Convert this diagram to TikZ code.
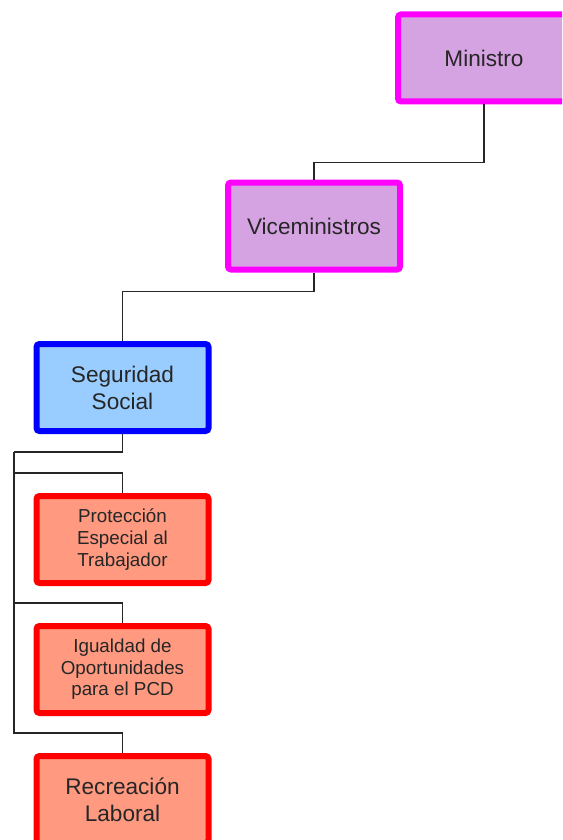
\documentclass[tikz,border=0pt]{standalone}
\usepackage{fontspec}
\setmainfont{Liberation Sans}
\usetikzlibrary{positioning,calc}
\definecolor{pc}{RGB}{214,163,226}
\definecolor{pm}{RGB}{255,0,255}
\definecolor{bc}{RGB}{153,204,255}
\definecolor{bm}{RGB}{0,0,255}
\definecolor{sc}{RGB}{255,153,128}
\definecolor{sm}{RGB}{255,0,0}
\tikzset{box/.style={draw,line width=3pt,rounded corners=1.5pt,minimum width=86pt,minimum height=43.5pt,
  align=center,text=black!85,font=\fontsize{11.3}{13.5}\selectfont},
 pbox/.style={box,draw=pm,fill=pc},sbox/.style={box,draw=bm,fill=bc},
 rbox/.style={box,draw=sm,fill=sc},small/.style={font=\fontsize{9.4}{10.8}\selectfont},
 wire/.style={line width=.75pt,black!85}}
\begin{document}
\begin{tikzpicture}[x=0.5pt,y=-0.5pt,node distance=18.5pt]
\clip (0,0) rectangle (562,840);
\node[pbox] (min) at (484,58) {Ministro};
\node[pbox] (vice) at (314,226) {Viceministros};
\node[sbox] (seg) at (122.5,387.5) {Seguridad\\Social};
\node[rbox,small] (prot) at (122.5,539.5) {Protección\\Especial al\\Trabajador};
\node[rbox,small,below=of prot] (igu) {Igualdad de\\Oportunidades\\para el PCD};
\node[rbox,below=of igu] (rec) {Recreación\\Laboral};
\coordinate (bus) at (14,452);
\draw[wire] (min.south)--++(0,58)-|(vice.north);
\draw[wire] (vice.south)--++(0,19)-|(seg.north);
\draw[wire] (seg.south)|-(bus);
\foreach \c in {prot,igu,rec}{\draw[wire] (bus)|-($(\c.north)+(0,-20)$)--(\c.north);}
\end{tikzpicture}
\end{document}
